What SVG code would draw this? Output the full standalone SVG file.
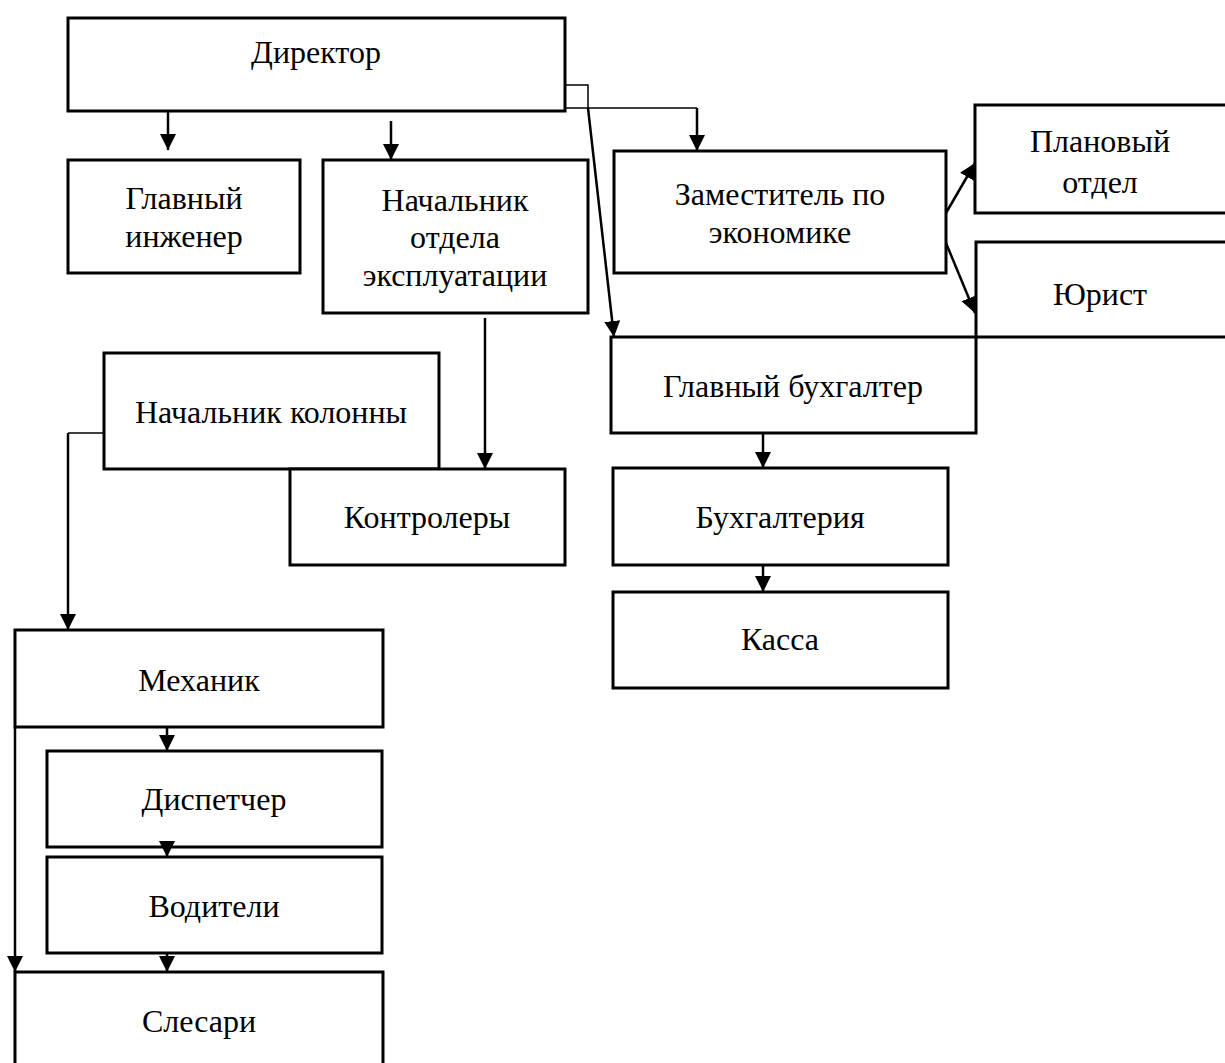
<svg xmlns="http://www.w3.org/2000/svg" width="1225" height="1063" viewBox="0 0 1225 1063">
<defs>
<marker id="ah" markerUnits="userSpaceOnUse" markerWidth="17" markerHeight="17" refX="16" refY="8" orient="auto">
<path d="M0,0 L16,8 L0,16 z" fill="#000"/>
</marker>
<style>
.box{fill:#fff;stroke:#000;stroke-width:3}
.t{font-family:"Liberation Serif","Times New Roman",serif;font-size:32px;fill:#000;text-anchor:middle}
.c{fill:none;stroke:#000;stroke-width:2.5}
.thin{fill:none;stroke:#000;stroke-width:1.5}
.a{marker-end:url(#ah)}
</style>
</defs>
<rect width="1225" height="1063" fill="#fff"/>
<g id="nodes">
<g id="director"><rect class="box" x="68" y="18" width="497" height="93"/><text class="t" x="316" y="63">Директор</text></g>
<g id="chief-engineer"><rect class="box" x="68" y="160" width="232" height="113"/><text class="t" x="184" y="209">Главный</text><text class="t" x="184" y="247">инженер</text></g>
<g id="ops-head"><rect class="box" x="323" y="160" width="265" height="153"/><text class="t" x="455" y="211">Начальник</text><text class="t" x="455" y="248">отдела</text><text class="t" x="455" y="286">эксплуатации</text></g>
<g id="deputy-econ"><rect class="box" x="614" y="151" width="332" height="122"/><text class="t" x="780" y="205">Заместитель по</text><text class="t" x="780" y="243">экономике</text></g>
<g id="planning"><rect class="box" x="975" y="105" width="270" height="108"/><text class="t" x="1100" y="152">Плановый</text><text class="t" x="1100" y="193">отдел</text></g>
<g id="lawyer"><rect class="box" x="976" y="242" width="270" height="95"/><text class="t" x="1100" y="305">Юрист</text></g>
<g id="chief-accountant"><rect class="box" x="611" y="337" width="365" height="96"/><text class="t" x="793" y="397">Главный бухгалтер</text></g>
<g id="column-head"><rect class="box" x="104" y="353" width="335" height="116"/><text class="t" x="271" y="423">Начальник колонны</text></g>
<g id="controllers"><rect class="box" x="290" y="469" width="275" height="96"/><text class="t" x="427" y="528">Контролеры</text></g>
<g id="accounting"><rect class="box" x="613" y="468" width="335" height="97"/><text class="t" x="780" y="528">Бухгалтерия</text></g>
<g id="cash"><rect class="box" x="613" y="592" width="335" height="96"/><text class="t" x="780" y="650">Касса</text></g>
<g id="mechanic"><rect class="box" x="15" y="630" width="368" height="97"/><text class="t" x="199" y="691">Механик</text></g>
<g id="dispatcher"><rect class="box" x="47" y="751" width="335" height="96"/><text class="t" x="214" y="810">Диспетчер</text></g>
<g id="drivers"><rect class="box" x="47" y="857" width="335" height="96"/><text class="t" x="214" y="917">Водители</text></g>
<g id="fitters"><rect class="box" x="15" y="972" width="368" height="110"/><text class="t" x="199" y="1032">Слесари</text></g>
</g>
<g id="connectors">
<path class="c a" d="M168,111 V150"/>
<path class="c a" d="M391,121 V160"/>
<path class="thin" d="M565,85 H588 V108"/>
<path class="c a" d="M588,108 L614,337"/>
<path class="thin" d="M565,108 H697"/>
<path class="c a" d="M697,108 V151"/>
<path class="c a" d="M946,213 L975,163"/>
<path class="c a" d="M946,243 L975,313"/>
<path class="c a" d="M485,318 V469"/>
<path class="thin" d="M104,433 H68"/>
<path class="c a" d="M68,433 V630"/>
<path class="c a" d="M763,433 V468"/>
<path class="c a" d="M763,565 V592"/>
<path class="c a" d="M167,727 V751"/>
<path class="c a" d="M167,841 V857"/>
<path class="c a" d="M167,953 V972"/>
<path class="c a" d="M15,727 V972"/>
</g>
</svg>
